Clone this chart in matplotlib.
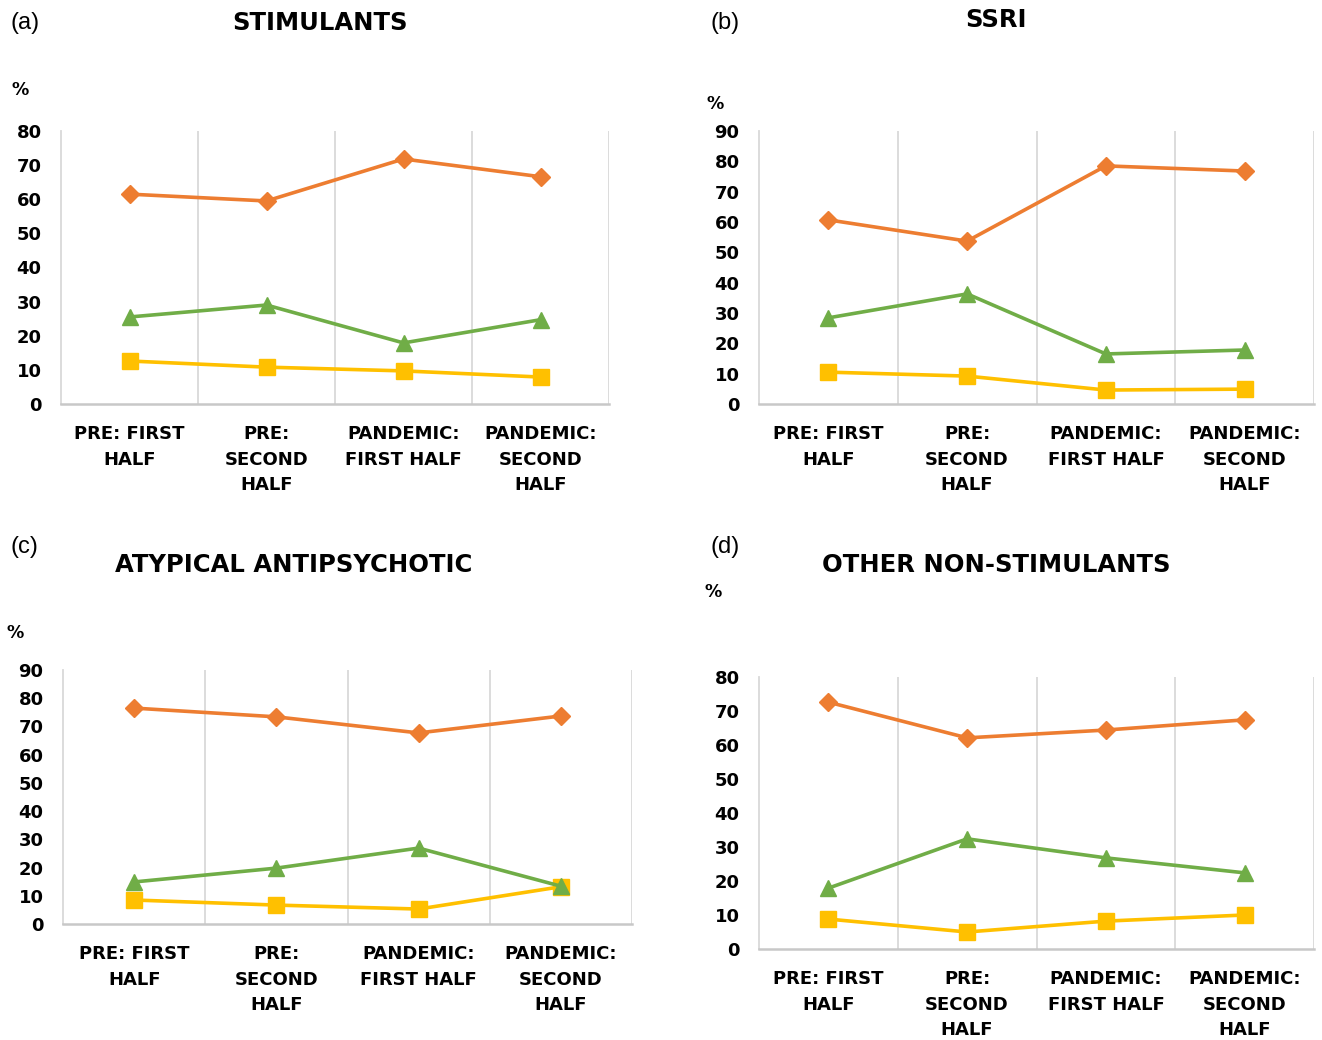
"""Four-panel line chart: share of prescriptions by period, per drug class."""
import matplotlib
matplotlib.use("Agg")
import matplotlib.pyplot as plt
import numpy as np

W, H = 1322, 1040

periods = ["PRE: FIRST\nHALF", "PRE:\nSECOND\nHALF", "PANDEMIC:\nFIRST HALF", "PANDEMIC:\nSECOND\nHALF"]

# (a) stimulants
stim_orange = [61.5, 59.5, 71.8, 66.6]
stim_green = [25.5, 29.0, 17.9, 24.7]
stim_yellow = [12.6, 10.8, 9.7, 7.9]

# (b) SSRI
ssri_orange = [60.7, 53.7, 78.5, 76.8]
ssri_green = [28.4, 36.3, 16.5, 17.8]
ssri_yellow = [10.5, 9.2, 4.6, 4.9]

# (c) atypical antipsychotic
atyp_orange = [76.5, 73.4, 67.7, 73.7]
atyp_green = [14.9, 19.8, 26.9, 13.4]
atyp_yellow = [8.5, 6.7, 5.3, 13.2]

# (d) other non-stimulants
other_orange = [72.6, 62.1, 64.4, 67.4]
other_green = [17.9, 32.4, 26.8, 22.4]
other_yellow = [8.8, 5.0, 8.2, 10.0]

ORANGE, GREEN, YELLOW = "#ED7D31", "#70AD47", "#FFC000"
GRID = "#D9D9D9"

panels = [
    # label, title, orange, green, yellow, ymax, axes box px (l, r, top, bottom), title xy, label xy, % xy
    ("(a)", "STIMULANTS", stim_orange, stim_green, stim_yellow, 80,
     (61, 609, 131, 404), (320, 23), (11, 23), (20, 90)),
    ("(b)", "SSRI", ssri_orange, ssri_green, ssri_yellow, 90,
     (759, 1314, 131, 404), (996, 20), (711, 23), (715, 104)),
    ("(c)", "ATYPICAL ANTIPSYCHOTIC", atyp_orange, atyp_green, atyp_yellow, 90,
     (63, 632, 670, 924), (294, 565), (11, 547), (15, 633)),
    ("(d)", "OTHER NON-STIMULANTS", other_orange, other_green, other_yellow, 80,
     (759, 1314, 677, 949), (996, 565), (711, 547), (713, 592)),
]


def fx(x):
    return x / W


def fy(y):
    return 1 - y / H


fig = plt.figure(figsize=(W / 100, H / 100), dpi=100)

for label, title, orange, green, yellow, ymax, box, txy, lxy, pxy in panels:
    l, r, t, b = box
    ax = fig.add_axes([fx(l), fy(b), (r - l) / W, (b - t) / H])
    x = np.arange(1, 5)
    ax.plot(x, orange, color=ORANGE, lw=2.6, marker="D", ms=9, zorder=3)
    ax.plot(x, yellow, color=YELLOW, lw=2.6, marker="s", ms=11, zorder=3)
    ax.plot(x, green, color=GREEN, lw=2.6, marker="^", ms=11, zorder=3)

    ax.set_xlim(0.5, 4.5)
    ax.set_ylim(0, ymax)
    ax.set_yticks(np.arange(0, ymax + 1, 10))
    ax.set_xticks(x)
    ax.set_xticklabels(periods, fontsize=13, fontweight="bold", linespacing=1.55)
    for lab in ax.get_yticklabels():
        lab.set_fontsize(13)
        lab.set_fontweight("bold")
    ax.tick_params(axis="both", length=0, pad=14, colors="black")
    ax.tick_params(axis="x", pad=15)
    for xb in [1.5, 2.5, 3.5, 4.5]:
        ax.axvline(xb, color=GRID, lw=1.3, zorder=1)
    for side in ["top", "right"]:
        ax.spines[side].set_visible(False)
    ax.spines["left"].set_color(GRID)
    ax.spines["left"].set_linewidth(1.3)
    ax.spines["bottom"].set_color("#C8C8C8")
    ax.spines["bottom"].set_linewidth(1.8)

    fig.text(fx(txy[0]), fy(txy[1]), title, ha="center", va="center",
             fontsize=17.5, fontweight="bold")
    fig.text(fx(lxy[0]), fy(lxy[1]), label, ha="left", va="center", fontsize=17,
             family="Liberation Sans")
    fig.text(fx(pxy[0]), fy(pxy[1]), "%", ha="center", va="center",
             fontsize=12.5, fontweight="bold")

fig.savefig("out.png", dpi=100)
